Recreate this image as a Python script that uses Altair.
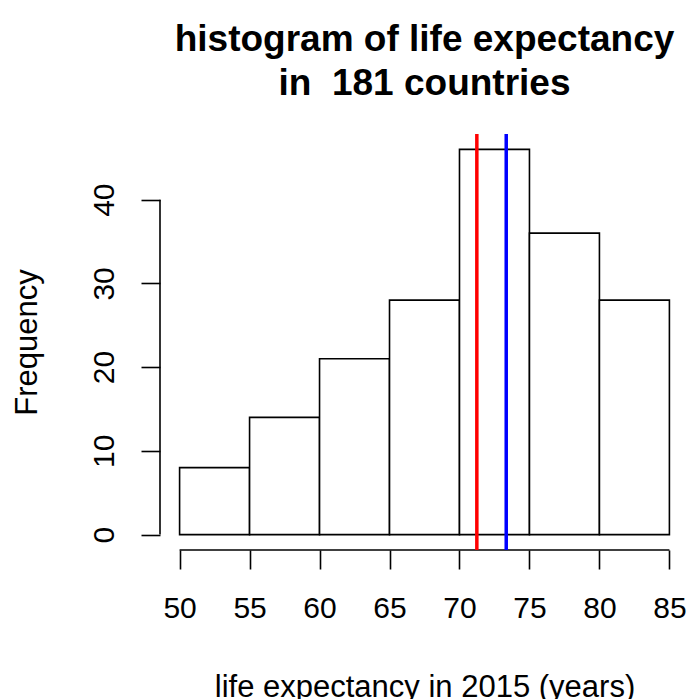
import altair as alt
import pandas as pd

# Histogram bins (years) and country counts per bin
bin_start = [50, 55, 60, 65, 70, 75, 80]
bin_end = [55, 60, 65, 70, 75, 80, 85]
counts = [8, 14, 21, 28, 46, 36, 28]

# Axis ticks
x_ticks = [50, 55, 60, 65, 70, 75, 80, 85]
y_ticks = [0, 10, 20, 30, 40]

# Reference lines: mean and median life expectancy
ref_names = ["mean", "median"]
ref_values = [71.24, 73.34]
ref_colors = ["#ff0000", "#0000ff"]

FONT = "Liberation Sans"
W, H = 529, 416

bins = pd.DataFrame({"start": bin_start, "end": bin_end, "count": counts})
refs = pd.DataFrame({"name": ref_names, "value": ref_values, "color": ref_colors})

x_dom = [48.6, 86.4]
y_dom = [-1.84, 47.84]
xs = alt.Scale(domain=x_dom, nice=False, zero=False)
ys = alt.Scale(domain=y_dom, nice=False, zero=False)

x_axis = alt.Axis(
    values=x_ticks, domain=False, grid=False, tickSize=19, tickWidth=1.6,
    tickColor="black", labelFont=FONT, labelFontSize=30, labelColor="black",
    labelBaseline="alphabetic", labelPadding=48, labelFlush=False,
    labelOverlap=False, title="life expectancy in 2015 (years)",
    titleFont=FONT, titleFontSize=31, titleFontWeight="normal",
    titleColor="black", titleBaseline="alphabetic", titleY=146,
)
y_axis = alt.Axis(
    values=y_ticks, domain=False, grid=False, tickSize=19, tickWidth=1.6,
    tickColor="black", labelFont=FONT, labelFontSize=30, labelColor="black",
    labelAngle=270, labelAlign="center", labelBaseline="alphabetic",
    labelPadding=28, labelOverlap=False, title="Frequency",
    titleFont=FONT, titleFontSize=31, titleFontWeight="normal",
    titleColor="black", titleAngle=270, titleAlign="center",
    titleBaseline="alphabetic", titleX=-124, titleY=H / 2,
)

bars = alt.Chart(bins).mark_rect(
    fill="white", stroke="black", strokeWidth=1.6
).encode(
    x=alt.X("start:Q", scale=xs, axis=x_axis),
    x2="end:Q",
    y=alt.Y("count:Q", scale=ys, axis=y_axis),
    y2=alt.datum(0),
)

# Axis lines spanning only the first to last tick
x_line = alt.Chart(pd.DataFrame({"a": [x_ticks[0]], "b": [x_ticks[-1]]})).mark_rule(
    color="black", strokeWidth=1.6
).encode(
    x=alt.X("a:Q", scale=xs, axis=x_axis),
    x2="b:Q",
    y=alt.Y(datum=y_dom[0], scale=ys, axis=y_axis),
)
y_line = alt.Chart(pd.DataFrame({"a": [y_ticks[0]], "b": [y_ticks[-1]]})).mark_rule(
    color="black", strokeWidth=1.6
).encode(
    y=alt.Y("a:Q", scale=ys, axis=y_axis),
    y2="b:Q",
    x=alt.X(datum=x_dom[0], scale=xs, axis=x_axis),
)

ref_lines = alt.Chart(refs).mark_rule(strokeWidth=3.5).encode(
    x=alt.X("value:Q", scale=xs, axis=x_axis),
    color=alt.Color("color:N", scale=None, legend=None),
)

chart = alt.layer(bars, x_line, y_line, ref_lines).properties(
    width=W,
    height=H,
    autosize=alt.AutoSizeParams(type="none"),
    padding={"left": 160, "top": 134, "right": 0, "bottom": 149},
    background="white",
    title=alt.TitleParams(
        text=["histogram of life expectancy", "in\u00a0 181 countries"],
        font=FONT, fontSize=37, fontWeight="bold", color="black",
        anchor="middle", frame="group", baseline="bottom",
        lineHeight=44, offset=-8,
    ),
).configure_view(stroke=None)

chart.save("out.html", embed_options={"renderer": "svg", "actions": False})
